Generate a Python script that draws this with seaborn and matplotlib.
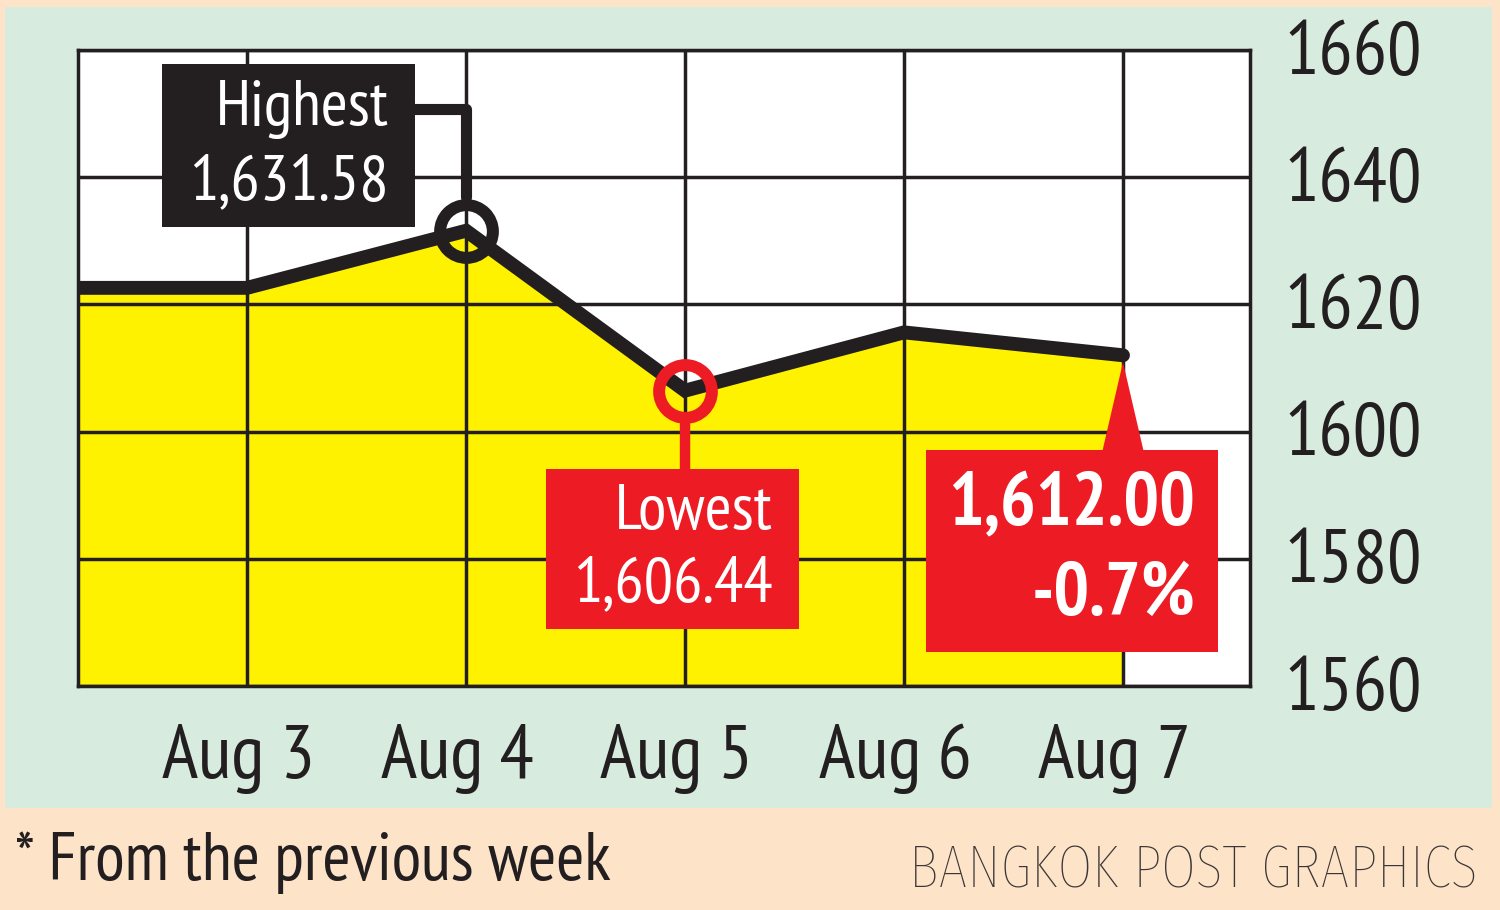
import matplotlib.pyplot as plt
import matplotlib.transforms as mtransforms
from matplotlib.patches import Rectangle
import numpy as np
import pandas as pd
import seaborn as sns

# SET index, weekly view (Bangkok Post style)
days = ['Aug 3', 'Aug 4', 'Aug 5', 'Aug 6', 'Aug 7']
closes = [1622.6, 1631.58, 1606.44, 1615.6, 1612.00]
prev_close = 1622.6
y_ticks = [1560, 1580, 1600, 1620, 1640, 1660]
high_label = 'Highest\n1,631.58'
low_label = 'Lowest\n1,606.44'
last_label = '1,612.00\n-0.7%'
footnote = '* From the previous week'
credit = 'BANGKOK POST GRAPHICS'

INK = '#231F20'
RED = '#ED1C24'
YELLOW = '#FFF200'
GREEN = '#D7ECDF'
PEACH = '#FDE3C8'

sns.set_style('white')
plt.rcParams['font.family'] = ['PT Sans Narrow', 'Liberation Sans', 'DejaVu Sans']

df = pd.DataFrame({'day': ['prev'] + days, 'close': [prev_close] + closes})
df['pos'] = np.arange(len(df)) - 1

fig = plt.figure(figsize=(15, 9.1), dpi=100)
fig.patch.set_facecolor(PEACH)
fig.add_artist(Rectangle((5 / 1500, 1 - 808 / 910), 1487 / 1500, 801 / 910,
                         transform=fig.transFigure, fc=GREEN, ec='none', zorder=0))
ax = fig.add_axes([78 / 1500, 1 - 686 / 910, 1172 / 1500, 636 / 910])
ax.set_facecolor('white')

ax.fill_between(df['pos'], df['close'], y_ticks[0], color=YELLOW, lw=0, zorder=0.3)
sns.lineplot(data=df, x='pos', y='close', color=INK, lw=10, ax=ax, zorder=3,
             solid_capstyle='round', solid_joinstyle='miter')

i_hi = int(np.argmax(closes))
i_lo = int(np.argmin(closes))
i_last = len(days) - 1
ax.plot(i_hi, closes[i_hi], 'o', ms=38, mfc='none', mec=INK, mew=8.6, zorder=4)
ax.plot(i_lo, closes[i_lo], 'o', ms=38, mfc='none', mec=RED, mew=8.6, zorder=4)

ax.set_xlim(-0.772, 4.58)
ax.set_ylim(y_ticks[0], y_ticks[-1])
ax.set_xticks(range(len(days)))
ax.set_xticklabels(days)
ax.set_yticks(y_ticks)
ax.yaxis.tick_right()
ax.set_xlabel('')
ax.set_ylabel('')
ax.grid(True, color=INK, lw=2.5)
for s in ax.spines.values():
    s.set_visible(True)
    s.set_color(INK)
    s.set_linewidth(2.5)
ax.tick_params(axis='y', length=0, pad=25, labelsize=55, labelcolor=INK)
ax.tick_params(axis='x', length=0, pad=27, labelsize=55, labelcolor=INK)
shift = mtransforms.ScaledTranslation(-0.09, 0, fig.dpi_scale_trans)
for lbl in ax.get_xticklabels():
    lbl.set_transform(lbl.get_transform() + shift)
up = mtransforms.ScaledTranslation(0, 0.03, fig.dpi_scale_trans)
for lbl in ax.get_yticklabels():
    lbl.set_transform(lbl.get_transform() + up)

# connectors (drawn under the boxes)
ax.annotate('', xy=(i_hi, closes[i_hi]), xytext=(-47, 88), textcoords='offset points', zorder=4.5,
            arrowprops=dict(arrowstyle='-', color=INK, lw=8,
                            connectionstyle='angle,angleA=0,angleB=90,rad=0',
                            shrinkA=0, shrinkB=24))
ax.annotate('', xy=(i_lo, closes[i_lo]), xytext=(0, -60), textcoords='offset points', zorder=4.5,
            arrowprops=dict(arrowstyle='-', color=RED, lw=7.5, shrinkA=0, shrinkB=24))
ax.annotate('', xy=(i_last, closes[i_last]), xytext=(0, -74), textcoords='offset points', zorder=4.5,
            arrowprops=dict(arrowstyle='wedge,tail_width=1.0,shrink_factor=0.5', fc=RED, ec='none',
                            mutation_scale=32, shrinkA=0, shrinkB=5))

# callout boxes
ax.annotate(high_label, xy=(i_hi, closes[i_hi]), xytext=(-56, 61), textcoords='offset points',
            ha='right', va='center', fontsize=47, color='white', zorder=5, linespacing=1.33,
            bbox=dict(boxstyle='square,pad=0.41', mutation_aspect=0.56, fc=INK, ec='none'))
ax.annotate(low_label, xy=(i_lo, closes[i_lo]), xytext=(63, -114), textcoords='offset points',
            ha='right', va='center', fontsize=47, color='white', zorder=5, linespacing=1.33,
            bbox=dict(boxstyle='square,pad=0.41', mutation_aspect=0.56, fc=RED, ec='none'))
ax.annotate(last_label, xy=(i_last, closes[i_last]), xytext=(52, -141), textcoords='offset points',
            ha='right', va='center', fontsize=54, fontweight='bold', color='white', zorder=5,
            linespacing=1.39, bbox=dict(boxstyle='square,pad=0.3', fc=RED, ec='none'))

fig.text(15 / 1500, 1 - 880 / 910, footnote, fontsize=49, color=INK, ha='left', va='baseline')
fig.text(1478 / 1500, 1 - 887 / 910, credit, fontsize=44, color='#3A3536', ha='right', va='baseline',
         family=['Fira Sans Extra Condensed', 'PT Sans Narrow', 'DejaVu Sans'], fontweight='light')

fig.savefig('out.png', dpi=100, facecolor=fig.get_facecolor())
